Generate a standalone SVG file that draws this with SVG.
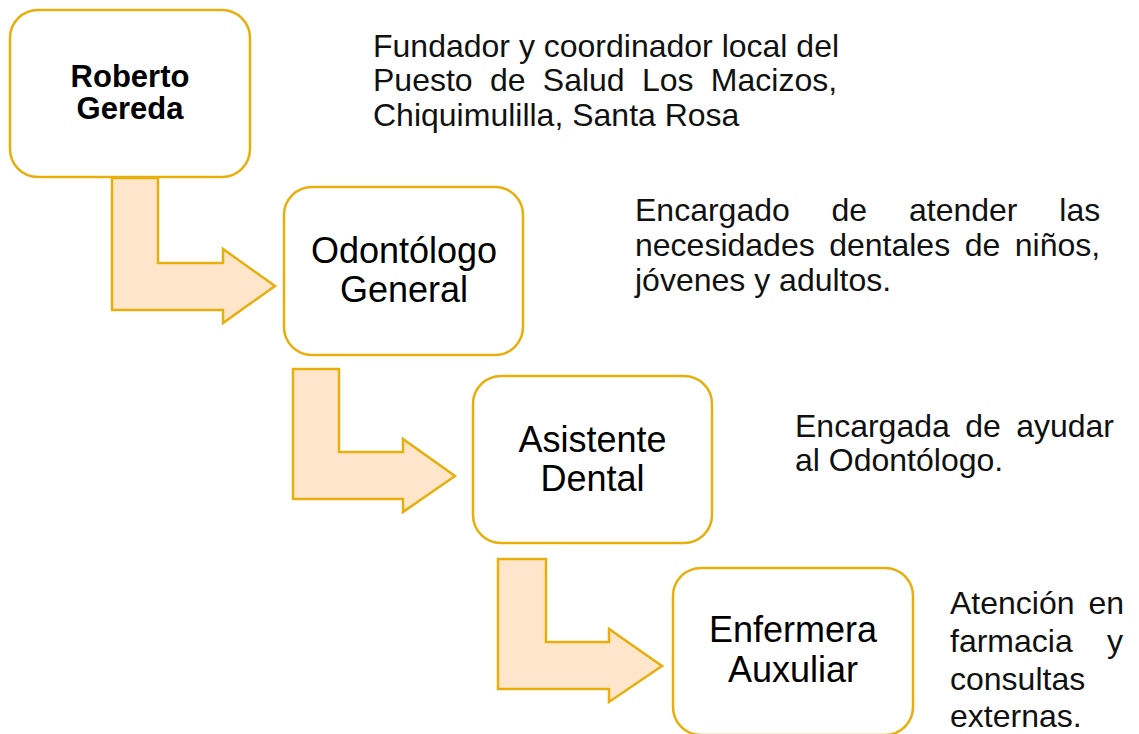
<svg xmlns="http://www.w3.org/2000/svg" width="1139" height="734" viewBox="0 0 1139 734">
  <style>
    .box { fill: #ffffff; stroke: #E8AE0C; stroke-width: 2.5; }
    .arrow { fill: #FFE6CB; stroke: #E8AE0C; stroke-width: 2.5; stroke-linejoin: miter; }
    .bold { font-family: "Liberation Sans", Arial, sans-serif; font-weight: bold; font-size: 31px; fill: #000; text-anchor: middle; }
    .name { font-family: "Liberation Sans", Arial, sans-serif; font-size: 36px; fill: #000; text-anchor: middle; }
    .desc { font-family: "Liberation Sans", Arial, sans-serif; font-size: 32px; fill: #111; }
  </style>
  <rect width="1139" height="734" fill="#ffffff"/>
  <g id="connectors">
    <polygon class="arrow" points="112,178 158,178 158,263 223,263 223,249 275,286 223,323 223,310 112,310"/>
    <polygon class="arrow" points="293,369 339,369 339,452 403,452 403,439 455,476 403,512 403,499 293,499"/>
    <polygon class="arrow" points="498,559 546,559 546,642 609,642 609,629 662,666 609,702 609,689 498,689"/>
  </g>
  <g id="node-roberto">
    <rect class="box" x="10" y="10" width="240" height="167" rx="28" ry="28"/>
    <text class="bold" x="130" y="87">Roberto</text>
    <text class="bold" x="130" y="119">Gereda</text>
  </g>
  <g id="node-odontologo">
    <rect class="box" x="284" y="187" width="239" height="168" rx="28" ry="28"/>
    <text class="name" x="404" y="263">Odontólogo</text>
    <text class="name" x="404" y="302">General</text>
  </g>
  <g id="node-asistente">
    <rect class="box" x="473" y="376" width="239" height="167" rx="28" ry="28"/>
    <text class="name" x="592.5" y="452">Asistente</text>
    <text class="name" x="592.5" y="491">Dental</text>
  </g>
  <g id="node-enfermera">
    <rect class="box" x="673" y="568" width="240" height="167" rx="28" ry="28"/>
    <text class="name" x="793" y="642">Enfermera</text>
    <text class="name" x="793" y="682">Auxuliar</text>
  </g>
  <g id="desc-roberto">
    <text class="desc" x="373" y="57">Fundador y coordinador local del</text>
    <text class="desc" x="373" y="91" word-spacing="8.4">Puesto de Salud Los Macizos,</text>
    <text class="desc" x="373" y="126">Chiquimulilla, Santa Rosa</text>
  </g>
  <g id="desc-odontologo">
    <text class="desc" x="635" y="221" word-spacing="32.9">Encargado de atender las</text>
    <text class="desc" x="635" y="256" word-spacing="5.6">necesidades dentales de niños,</text>
    <text class="desc" x="635" y="291">jóvenes y adultos.</text>
  </g>
  <g id="desc-asistente">
    <text class="desc" x="795" y="437" word-spacing="6.5">Encargada de ayudar</text>
    <text class="desc" x="795" y="471">al Odontólogo.</text>
  </g>
  <g id="desc-enfermera">
    <text class="desc" x="950" y="614" word-spacing="5">Atención en</text>
    <text class="desc" x="950" y="652" word-spacing="25.4">farmacia y</text>
    <text class="desc" x="950" y="690">consultas</text>
    <text class="desc" x="950" y="727">externas.</text>
  </g>
</svg>
